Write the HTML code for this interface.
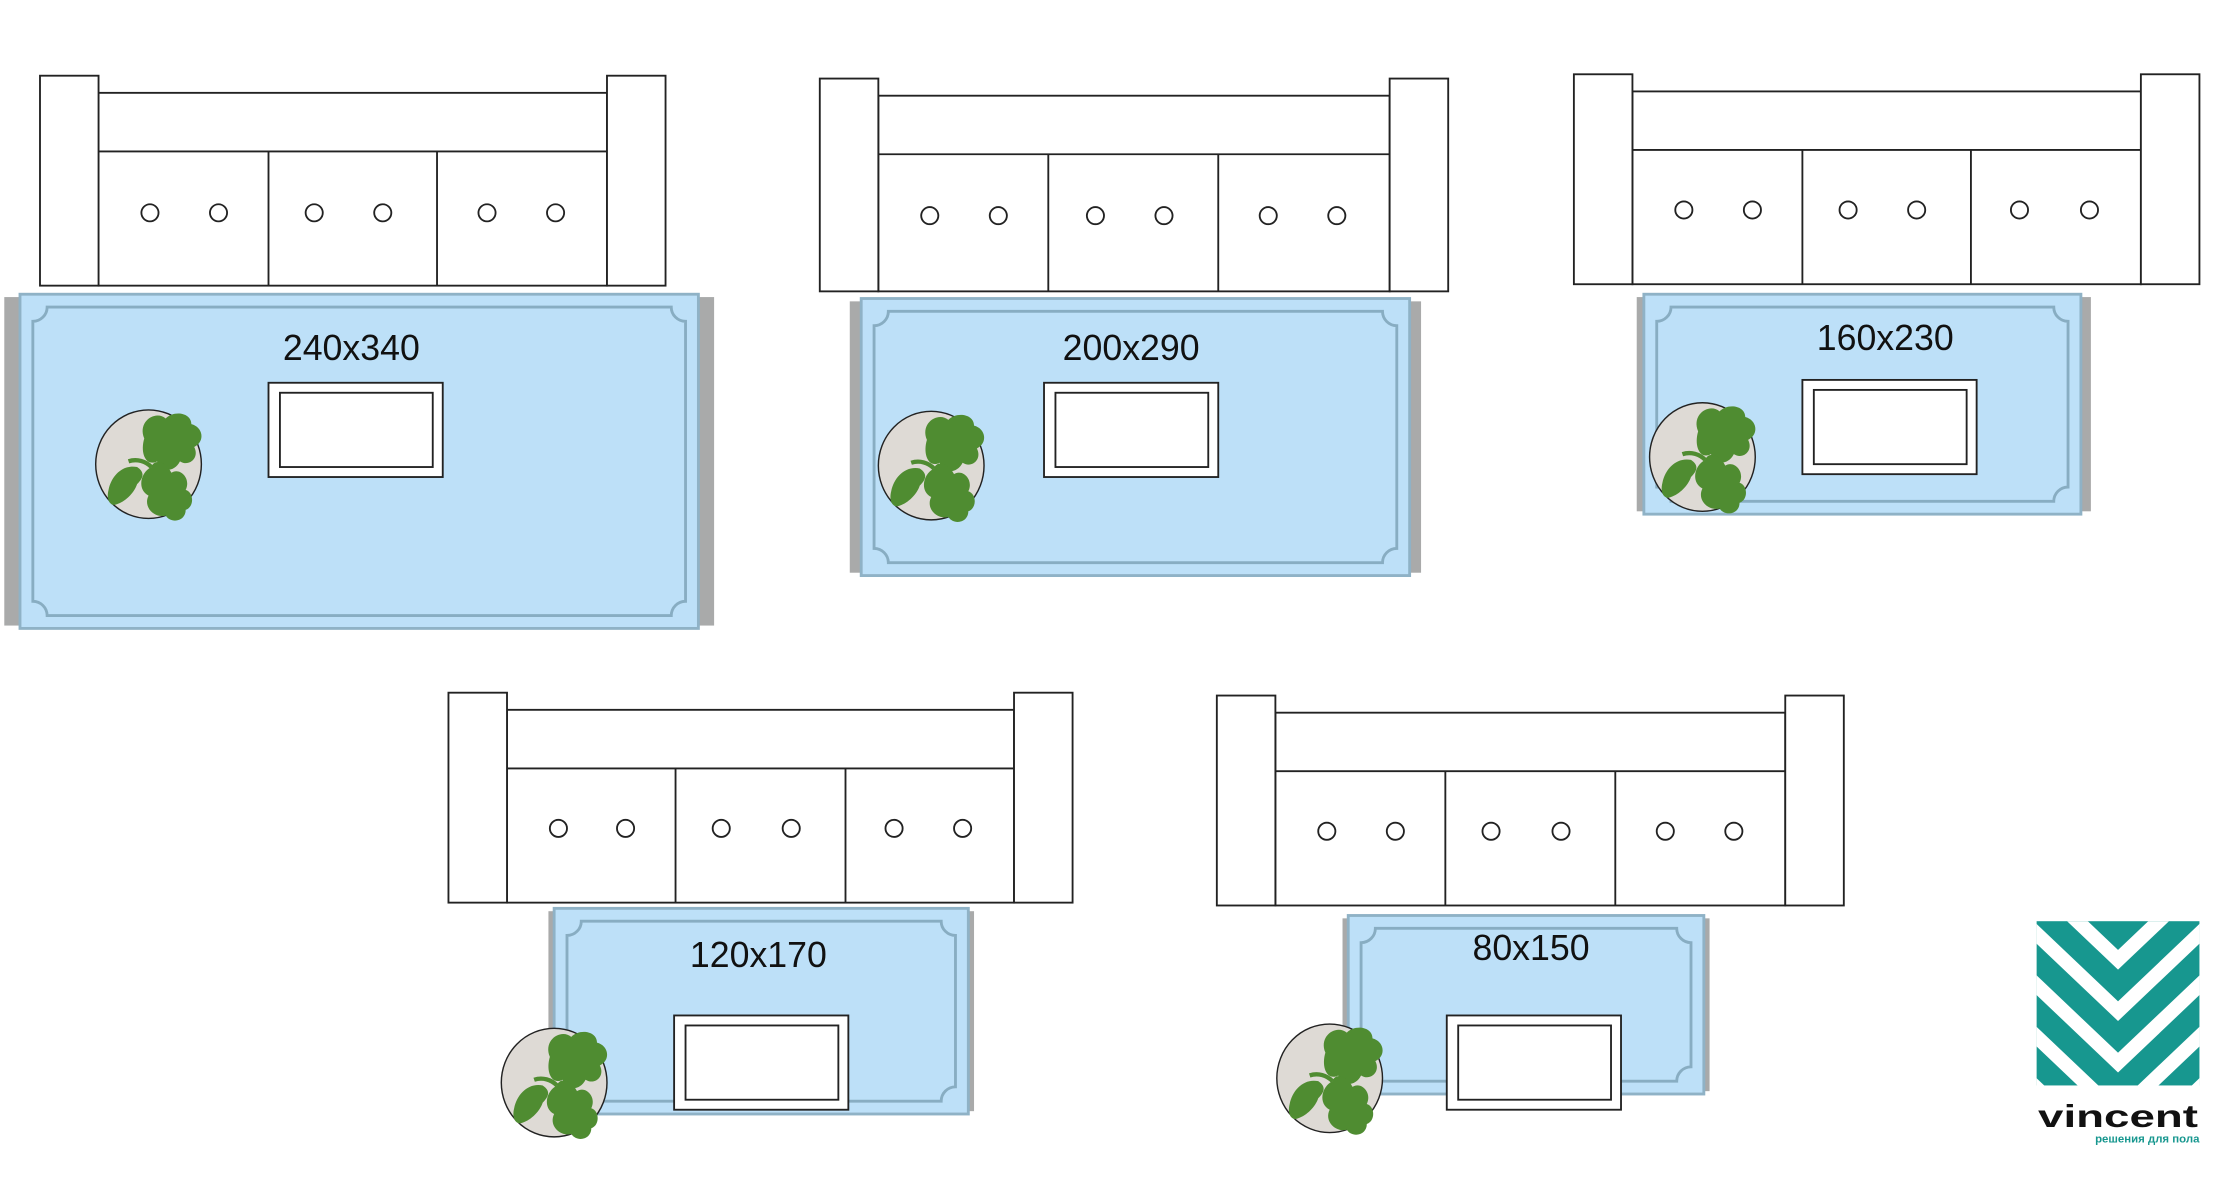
<!DOCTYPE html>
<html><head><meta charset="utf-8"><style>
html,body{margin:0;padding:0;background:#fff;width:2238px;height:1190px;overflow:hidden}
svg{display:block}
text{font-family:"Liberation Sans",sans-serif}
</style></head><body>
<svg id="s" width="2238" height="1190" viewBox="0 0 1567 833.2" xmlns="http://www.w3.org/2000/svg">
<defs>
<g id="plant">
<ellipse cx="0" cy="0" rx="37" ry="38" fill="#dedad5" stroke="#222" stroke-width="1"/>
<g fill="#4f8c31">
<path d="M-3,-18 C-8,-30 5,-38 12,-32 C18,-38 30,-36 30,-28 C38,-26 40,-16 32,-12 C36,-4 28,2 22,-2 C18,6 8,6 6,-2 C-2,2 -6,-8 -3,-18Z"/>
<path d="M2,2 C-6,6 -8,18 0,22 C-4,30 4,38 12,36 C16,42 26,40 26,32 C32,30 32,20 26,18 C30,10 22,2 16,6 C12,-2 4,-4 2,2Z"/>
<path d="M-8,2 C-18,0 -26,8 -28,18 C-30,26 -26,30 -22,28 C-16,26 -10,20 -8,14 C-4,10 -2,6 -8,2Z"/>
<path d="M-14,-2 C-8,-4 -2,-2 2,2" stroke="#4f8c31" stroke-width="3" fill="none"/>
</g>
</g>
</defs>
<g id="content"></g>
<text x="246" y="252" font-size="25" text-anchor="middle" fill="#111">240x340</text>
<text x="792" y="252" font-size="25" text-anchor="middle" fill="#111">200x290</text>
<text x="1320" y="245" font-size="25" text-anchor="middle" fill="#111">160x230</text>
<text x="531" y="677" font-size="25" text-anchor="middle" fill="#111">120x170</text>
<text x="1072" y="672" font-size="25" text-anchor="middle" fill="#111">80x150</text>
<g>
<clipPath id="lc"><rect x="1426" y="645" width="114" height="115"/></clipPath>
<rect x="1426" y="645" width="114" height="115" fill="#17978f"/>
<g clip-path="url(#lc)" stroke="#fff" stroke-width="10" fill="none">
<polyline points="1383,625 1483,720 1583,625" transform="translate(0,-48)"/>
<polyline points="1383,625 1483,720 1583,625" transform="translate(0,-12)"/>
<polyline points="1383,625 1483,720 1583,625" transform="translate(0,24)"/>
<polyline points="1383,625 1483,720 1583,625" transform="translate(0,60)"/>
<polyline points="1383,625 1483,720 1583,625" transform="translate(0,96)"/>
</g>
<text x="1483" y="789" font-size="22" font-weight="bold" text-anchor="middle" fill="#111" textLength="112" lengthAdjust="spacingAndGlyphs">vincent</text>
<text x="1540" y="800" font-size="8" font-weight="bold" text-anchor="end" fill="#17978f">решения для пола</text>
</g>
</svg>
<script>
var C=document.getElementById('content'),h='';
function sofa(x1,x2,y1,y2,arm,bt,dv,by,bx){
 h+='<g fill="#fff" stroke="#222" stroke-width="1.3">';
 h+='<rect x="'+(x1+arm)+'" y="'+(y1+12)+'" width="'+(x2-x1-2*arm)+'" height="'+(y2-y1-12)+'"/>';
 h+='<line x1="'+(x1+arm)+'" y1="'+bt+'" x2="'+(x2-arm)+'" y2="'+bt+'"/>';
 dv.forEach(function(d){h+='<line x1="'+d+'" y1="'+bt+'" x2="'+d+'" y2="'+y2+'"/>';});
 h+='<rect x="'+x1+'" y="'+y1+'" width="'+arm+'" height="'+(y2-y1)+'"/>';
 h+='<rect x="'+(x2-arm)+'" y="'+y1+'" width="'+arm+'" height="'+(y2-y1)+'"/>';
 bx.forEach(function(b){h+='<circle cx="'+b+'" cy="'+by+'" r="6"/>';});
 h+='</g>';
}
function rug(fx1,fx2,bx1,bx2,y1,y2,t,p){
 h+='<rect x="'+fx1+'" y="'+(y1+2)+'" width="'+(fx2-fx1)+'" height="'+(y2-y1-4)+'" fill="#a9aaaa"/>';
 h+='<rect x="'+bx1+'" y="'+y1+'" width="'+(bx2-bx1)+'" height="'+(y2-y1)+'" fill="#bde0f8" stroke="#8fb2c6" stroke-width="2"/>';
 var i=9,r=10,a=bx1+i,b=bx2-i,c=y1+i,d=y2-i;
 h+='<path d="M'+(a+r)+','+c+' L'+(b-r)+','+c+' A'+r+','+r+' 0 0 0 '+b+','+(c+r)+' L'+b+','+(d-r)+' A'+r+','+r+' 0 0 0 '+(b-r)+','+d+' L'+(a+r)+','+d+' A'+r+','+r+' 0 0 0 '+a+','+(d-r)+' L'+a+','+(c+r)+' A'+r+','+r+' 0 0 0 '+(a+r)+','+c+'Z" fill="none" stroke="#88adc2" stroke-width="2"/>';
 h+='<rect x="'+t[0]+'" y="'+t[1]+'" width="122" height="66" fill="#fff" stroke="#222" stroke-width="1.3"/>';
 h+='<rect x="'+(t[0]+8)+'" y="'+(t[1]+7)+'" width="107" height="52" fill="#fff" stroke="#222" stroke-width="1.3"/>';
 h+='<use href="#plant" x="'+p[0]+'" y="'+p[1]+'"/>';
}
sofa(28,466,53,200,41,106,[188,306],149,[105,153,220,268,341,389]);
sofa(574,1014,55,204,41,108,[734,853],151,[651,699,767,815,888,936]);
sofa(1102,1540,52,199,41,105,[1262,1380],147,[1179,1227,1294,1342,1414,1463]);
sofa(314,751,485,632,41,538,[473,592],580,[391,438,505,554,626,674]);
sofa(852,1291,487,634,41,540,[1012,1131],582,[929,977,1044,1093,1166,1214]);
rug(3,500,14,489,206,440,[188,268],[104,325]);
rug(595,995,603,987,209,403,[731,268],[652,326]);
rug(1146,1464,1151,1457,206,360,[1262,266],[1192,320]);
rug(384,682,388,678,636,780,[472,711],[388,758]);
rug(940,1197,944,1193,641,766,[1013,711],[931,755]);
C.innerHTML=h;
</script>
</body></html>
